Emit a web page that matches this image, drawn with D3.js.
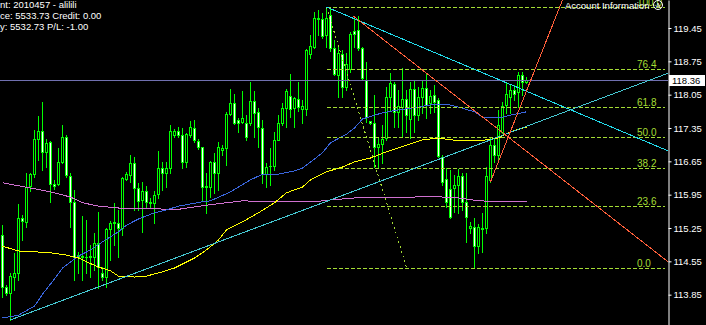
<!DOCTYPE html>
<html lang="en">
<head>
<meta charset="UTF-8">
<title>Candles with fibo and trendlines</title>
<script src="https://d3js.org/d3.v7.min.js"></script>
<style>
  html, body { margin: 0; padding: 0; background: #000; }
  svg { display: block; }
  text { font-family: 'Liberation Sans', Arial, sans-serif; }
</style>
</head>
<body>
<div id="chart"></div>
<script>
// bars, oldest first
const opens = [
  115.10,114.01,113.89,114.22,114.31,115.46,115.38,116.13,116.38,117.12,
  117.29,116.85,117.06,116.17,116.17,116.64,117.16,116.34,115.80,114.68,
  114.66,114.64,114.64,114.64,114.94,114.31,114.22,115.23,115.36,115.36,
  115.25,116.28,116.36,116.62,116.09,115.84,116.03,115.80,115.78,115.96,
  116.51,116.41,116.51,117.20,117.29,117.20,116.64,117.20,117.35,117.08,
  116.95,116.13,116.11,116.64,116.41,116.89,116.93,117.64,117.88,117.52,
  117.48,117.46,117.46,117.92,117.69,117.35,116.38,116.55,116.55,117.10,
  117.46,117.77,118.02,117.77,117.96,117.75,117.75,118.90,119.05,119.66,
  119.64,119.30,119.72,119.03,118.46,118.90,118.21,118.59,119.39,119.41,
  119.03,118.36,117.50,117.46,116.95,117.01,117.14,118.00,118.27,117.69,
  117.79,117.96,117.54,118.17,117.62,118.00,118.19,117.88,118.04,117.94,
  116.74,116.28,116.07,116.09,116.15,116.34,115.80,115.25,115.27,114.87,
  115.23,115.25,116.26,116.99,116.78,117.27,117.83,118.00,118.15,118.11,
  118.46,118.32
];
const highs = [
  115.31,114.05,114.31,114.73,115.75,115.52,116.41,116.41,117.31,117.60,
  117.90,117.12,117.08,116.26,116.93,117.41,117.20,116.41,116.05,114.75,
  115.50,115.42,114.89,115.15,115.59,114.43,115.25,115.40,115.78,115.63,
  116.32,116.43,116.78,116.74,116.20,116.22,116.13,115.88,116.03,116.87,
  116.64,116.64,117.41,117.33,117.37,117.35,117.25,117.50,117.52,117.12,
  116.95,116.41,116.66,116.83,117.06,116.99,117.69,118.17,118.06,117.56,
  118.13,117.62,118.32,118.13,117.77,117.52,116.62,116.93,117.27,117.62,
  117.88,118.17,118.48,118.00,118.32,117.94,119.01,119.30,119.79,119.83,
  119.77,119.89,119.89,119.20,119.07,118.99,118.93,119.37,119.70,119.70,
  119.05,118.74,117.50,118.04,117.14,117.41,118.21,118.51,118.32,118.15,
  118.61,118.15,118.32,118.36,118.21,118.36,118.51,118.15,118.25,117.98,
  116.78,116.51,116.47,116.36,116.49,116.41,116.41,115.38,115.46,115.33,
  115.57,116.53,117.16,117.14,117.73,117.90,118.30,118.25,118.25,118.53,
  118.53,118.42
];
const lows = [
  113.80,113.84,113.32,113.95,114.16,115.00,115.27,116.03,116.32,116.68,
  116.47,116.53,115.80,116.07,116.15,116.62,116.32,115.27,114.16,114.31,
  114.16,114.31,114.22,114.37,113.99,114.16,114.01,114.58,114.89,114.64,
  115.10,116.26,116.22,115.63,115.63,115.17,115.67,115.69,115.36,115.88,
  116.05,116.11,116.41,117.16,117.16,116.51,116.53,117.16,117.06,116.91,
  115.84,115.57,115.90,115.99,116.05,116.78,116.57,117.62,117.43,117.27,
  117.46,117.10,117.41,117.16,116.95,116.20,116.11,116.15,116.47,117.10,
  117.41,117.37,117.58,117.37,117.71,117.46,117.62,118.82,119.03,119.30,
  119.24,119.05,118.97,118.46,118.00,118.00,118.15,118.53,119.05,118.99,
  118.36,117.48,117.43,116.53,116.53,116.62,117.10,117.73,117.37,117.37,
  117.16,117.27,117.14,117.27,117.52,117.67,117.56,117.67,117.69,116.74,
  116.15,115.69,115.46,115.59,115.57,115.63,114.96,115.15,114.43,114.73,
  114.75,115.15,116.22,116.64,116.64,117.25,117.67,117.67,117.94,117.79,
  118.04,118.30
];
const closes = [
  114.01,113.89,114.24,114.31,115.46,115.40,116.11,116.38,117.12,117.29,
  116.85,117.04,116.17,116.13,116.64,117.16,116.36,115.80,114.64,114.64,
  114.64,114.65,114.66,114.94,114.43,114.22,115.23,115.36,115.37,115.25,
  116.30,116.38,116.62,116.09,115.82,116.03,115.80,115.78,115.94,116.51,
  116.41,116.51,117.29,117.29,117.20,116.64,117.22,117.37,117.10,116.95,
  116.11,116.12,116.64,116.41,116.95,116.93,117.64,117.88,117.46,117.46,
  117.56,117.16,117.92,117.67,117.37,116.38,116.53,116.55,117.10,117.46,
  117.77,118.13,117.75,117.98,117.79,117.81,118.99,119.07,119.66,119.64,
  119.28,119.66,119.03,118.48,118.93,118.21,118.69,119.32,119.32,119.03,
  118.40,117.58,117.46,116.95,117.01,117.12,118.00,118.30,117.69,117.81,
  117.96,117.62,118.17,117.62,118.00,118.19,117.83,118.02,117.90,116.76,
  116.22,115.80,115.48,116.15,116.34,115.80,115.48,115.29,114.87,115.27,
  115.25,116.34,116.99,116.78,117.41,117.81,118.06,118.15,118.06,118.46,
  118.32,118.36
];

// moving averages, sampled at bar indexes
const maPinkIdx = [0,12,17,20,24,29,36,43,51,60,68,78,82,88,91,103,106,110,114,119,127,131];
const maPink = [116.20,116.01,115.90,115.78,115.71,115.67,115.67,115.63,115.73,115.82,115.80,115.80,115.84,115.88,115.90,115.90,115.92,115.90,115.88,115.82,115.80,115.80];

const maBlueIdx = [0,4,8,10,13,15,19,22,25,29,31,34,38,41,44,50,52,57,62,65,69,73,75,76,80,82,86,88,90,95,99,104,108,111,114,118,120,124,127,131];
const maBlue = [113.36,113.42,113.61,113.86,114.18,114.41,114.66,114.79,114.96,115.17,115.31,115.44,115.57,115.63,115.71,115.80,115.82,116.01,116.26,116.38,116.38,116.45,116.51,116.57,116.83,117.04,117.22,117.35,117.54,117.67,117.73,117.79,117.85,117.85,117.79,117.69,117.58,117.56,117.62,117.69];

const maYellowIdx = [0,3,5,8,12,16,19,21,24,27,29,33,36,40,43,48,51,54,56,60,64,68,71,75,77,81,85,88,92,96,101,105,109,112,117,121,124,127,131];
const maYellow = [114.87,114.79,114.75,114.75,114.73,114.68,114.62,114.54,114.43,114.35,114.24,114.22,114.24,114.33,114.41,114.62,114.79,115.00,115.21,115.38,115.57,115.78,115.99,116.11,116.26,116.43,116.53,116.64,116.72,116.85,116.99,117.10,117.14,117.10,117.08,117.10,117.14,117.27,117.37];

// trendlines: two anchors [barIndex, price], drawn as rays to the price axis
const trendCyanUp = [[2, 113.32], [166.4, 118.50]];
const trendCyanDown = [[81, 119.89], [166.4, 116.87]];
const trendRedDown = [[87.7, 119.70], [166.4, 114.54]];
const trendRedUp = [[122, 116.22], [140, 120.04]];

// fibonacci retracement
const fibLevels = [0, 23.6, 38.2, 50, 61.8, 76.4, 100];
const fibHigh = 119.89, fibLow = 114.42;
const fibFrom = 81, fibTo = 101, fibEnd = 165.5;

const priceTicks = [119.45, 118.75, 118.05, 117.35, 116.65, 115.95, 115.25, 114.55, 113.85, 113.15];
const bid = 118.36;

const accountLines = [
  ['Accou', 'nt: 2010457 - alilili'],
  ['Balan', 'ce: 5533.73 Credit: 0.00'],
  ['Equit', 'y: 5532.73 P/L: -1.00']
];

const W = 706, H = 325, axisX = 668;
const lime = '#00ff00', fibColor = '#a4dc34';

const svg = d3.select('#chart').append('svg')
  .attr('width', W).attr('height', H)
  .style('background', '#000');

const x = d3.scaleLinear().domain([0, 131]).range([2.5, 526.5]);
const y = d3.scaleLinear().domain([113.213, 120.038]).range([H, 0]);

svg.append('clipPath').attr('id', 'plot')
  .append('rect').attr('width', axisX).attr('height', H);
const plot = svg.append('g').attr('clip-path', 'url(#plot)');

// candles
const bars = opens.map((o, i) => ({ i, o, h: highs[i], l: lows[i], c: closes[i] }));
const cg = plot.append('g').attr('shape-rendering', 'crispEdges');
const bar = cg.selectAll('g').data(bars).join('g');

bar.append('line')
  .attr('x1', d => x(d.i)).attr('x2', d => x(d.i))
  .attr('y1', d => Math.round(y(d.h)))
  .attr('y2', d => Math.round(y(d.l)) + 1)
  .attr('stroke', lime);

const bodyTop = d => Math.round(y(Math.max(d.o, d.c)));
const bodyH = d => Math.max(1, Math.round(y(Math.min(d.o, d.c))) - bodyTop(d) + 1);

bar.append('rect')
  .attr('x', d => x(d.i) - 1.5).attr('width', 3)
  .attr('y', bodyTop).attr('height', bodyH)
  .attr('fill', lime);

bar.filter(d => bodyH(d) > 2).append('rect')
  .attr('x', d => x(d.i) - 0.5).attr('width', 1)
  .attr('y', d => bodyTop(d) + 1).attr('height', d => bodyH(d) - 2)
  .attr('fill', d => d.c < d.o ? '#ffffff' : '#000000');

// bid line
plot.append('line')
  .attr('x1', 0).attr('x2', axisX)
  .attr('y1', Math.round(y(bid)) + 0.5).attr('y2', Math.round(y(bid)) + 0.5)
  .attr('stroke', '#7070b0');

// moving averages
const line = d3.line().x(d => x(d[0])).y(d => y(d[1]));
[[maPinkIdx, maPink, '#d070d0'], [maBlueIdx, maBlue, '#3a66dd'], [maYellowIdx, maYellow, '#ffff00']]
  .forEach(([idx, vals, col]) => {
    plot.append('path')
      .datum(d3.zip(idx, vals))
      .attr('d', line)
      .attr('fill', 'none')
      .attr('stroke', col)
      .attr('stroke-width', 1)
      .attr('shape-rendering', 'crispEdges');
  });

// fibonacci
const fibPrice = r => fibLow + (fibHigh - fibLow) * r / 100;
const fg = plot.append('g');
fg.selectAll('line').data(fibLevels).join('line')
  .attr('x1', x(fibFrom)).attr('x2', x(fibEnd))
  .attr('y1', r => Math.round(y(fibPrice(r))) + 0.5)
  .attr('y2', r => Math.round(y(fibPrice(r))) + 0.5)
  .attr('stroke', fibColor)
  .attr('stroke-dasharray', '4,2')
  .attr('shape-rendering', 'crispEdges');
fg.selectAll('text').data(fibLevels).join('text')
  .attr('x', 637)
  .attr('y', r => Math.round(y(fibPrice(r))) - 1.5)
  .attr('fill', fibColor)
  .style('font-size', '10px')
  .text(r => r.toFixed(1));
plot.append('line')
  .attr('x1', x(fibFrom)).attr('y1', y(fibHigh))
  .attr('x2', x(fibTo)).attr('y2', y(fibLow))
  .attr('stroke', fibColor)
  .attr('stroke-dasharray', '2,3')
  .attr('shape-rendering', 'crispEdges');

// trendlines
const ray = (a, b) => {
  const k = (b[1] - a[1]) / (b[0] - a[0]);
  const end = x.invert(axisX);
  return [a, [end, a[1] + k * (end - a[0])]];
};
[[trendCyanUp, '#45c8d2'], [trendCyanDown, '#22dcec'], [trendRedDown, '#ff5f3a'], [trendRedUp, '#ff5f3a']]
  .forEach(([pts, col]) => {
    plot.append('path')
      .datum(ray(pts[0], pts[1]))
      .attr('d', line)
      .attr('fill', 'none')
      .attr('stroke', col)
      .attr('stroke-width', 1)
      .attr('shape-rendering', 'crispEdges');
  });

// price axis
const axis = d3.axisRight(y)
  .tickValues(priceTicks)
  .tickSize(3).tickSizeOuter(0).tickPadding(2)
  .tickFormat(d3.format('.2f'));
const ax = svg.append('g')
  .attr('transform', `translate(${axisX + 0.5},0)`)
  .call(axis);
ax.select('.domain').attr('stroke', '#fff');
ax.selectAll('.tick line').attr('stroke', '#fff');
ax.selectAll('.tick text')
  .attr('fill', '#fff')
  .style('font-family', "'Liberation Sans', Arial, sans-serif")
  .style('font-size', '9.5px');

// bid tag
const by = Math.round(y(bid));
svg.append('rect')
  .attr('x', axisX + 1).attr('y', by - 5)
  .attr('width', 36).attr('height', 11)
  .attr('fill', '#fff');
svg.append('text')
  .attr('x', axisX + 4).attr('y', by + 0.5)
  .attr('dy', '0.35em')
  .attr('fill', '#000')
  .style('font-size', '9.5px')
  .text(bid.toFixed(2));

// account panel (left edge cut off)
accountLines.forEach(([hidden, shown], k) => {
  const probe = svg.append('text').style('font-size', '9.5px').text(hidden);
  const w = probe.node().getComputedTextLength();
  probe.remove();
  svg.append('text')
    .attr('x', -w).attr('y', 7.5 + k * 11)
    .attr('fill', '#fff')
    .style('font-size', '9.5px')
    .text(hidden + shown);
});

svg.append('text')
  .attr('x', 565).attr('y', 8.5)
  .attr('fill', '#fff')
  .style('font-size', '9.5px')
  .text('Account Information');
svg.append('circle')
  .attr('cx', 658).attr('cy', 5).attr('r', 4.5)
  .attr('fill', 'none').attr('stroke', '#fff');
svg.append('text')
  .attr('x', 658).attr('y', 8)
  .attr('text-anchor', 'middle')
  .attr('fill', '#fff')
  .style('font-size', '7px')
  .text('A');
</script>
</body>
</html>
